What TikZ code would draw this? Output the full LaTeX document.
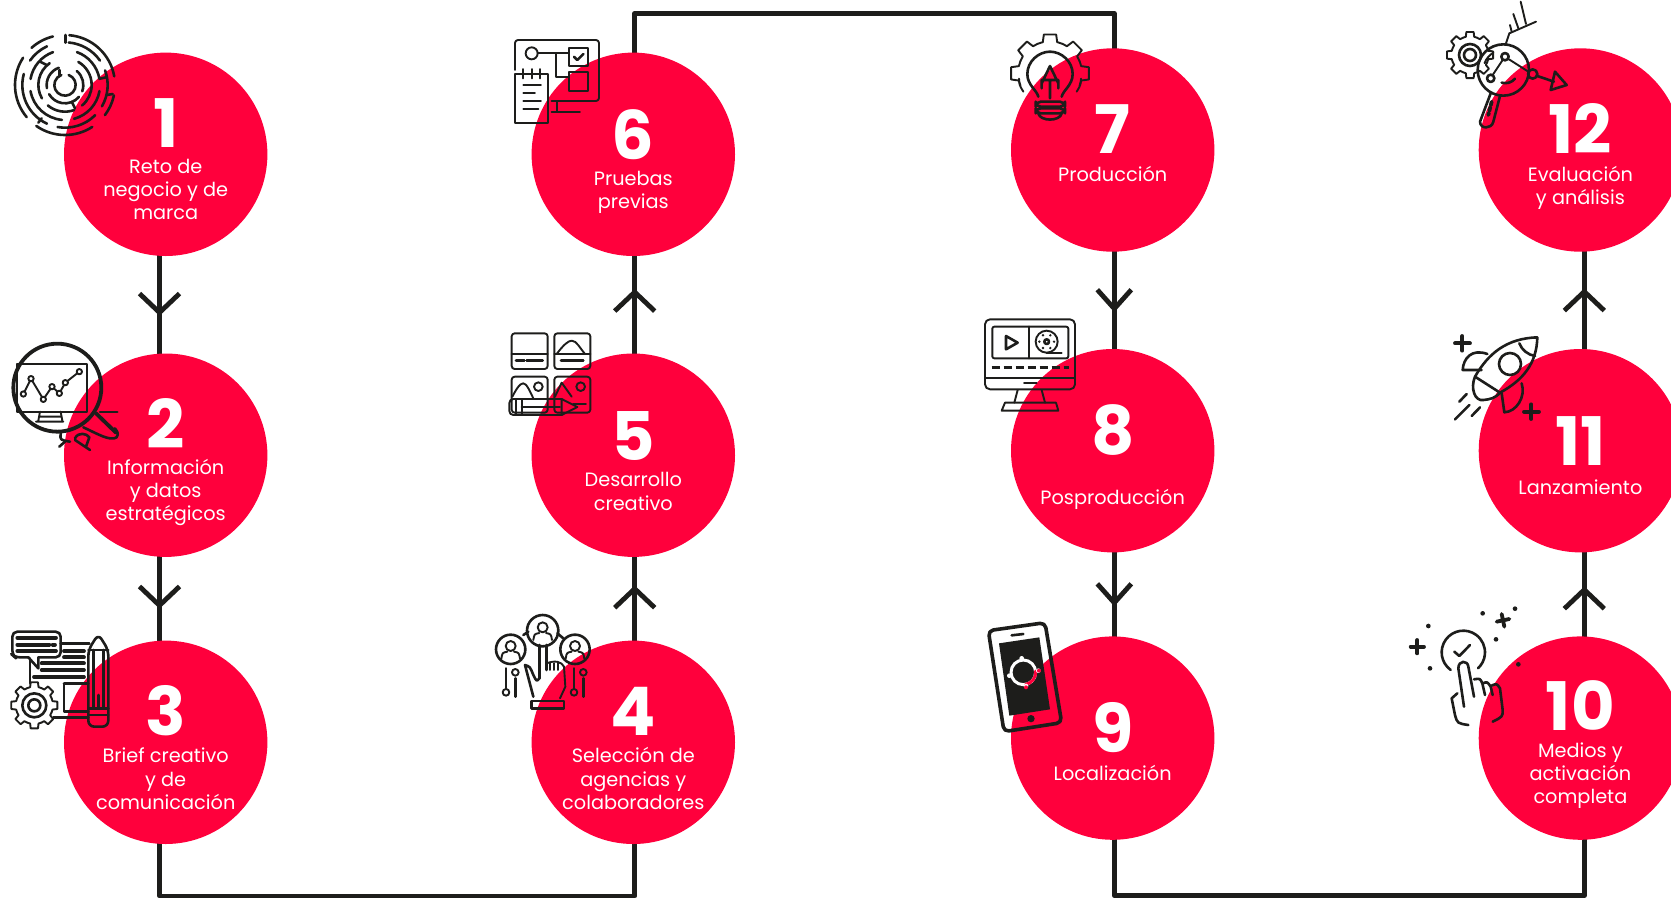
\documentclass[tikz,border=0pt]{standalone}
\usepackage{fontspec}
\setmainfont{Poppins}
\usepackage{xcolor}
\usetikzlibrary{arrows.meta, positioning, calc, backgrounds, decorations.markings}
\definecolor{brand}{HTML}{FF003C}
\definecolor{ink}{HTML}{1D1D1B}
\newcommand{\gearteeth}[5]{\begin{scope}[shift={(#1,#2)}]
    \foreach \a in {#5} \draw (\a-22.5:#4) -- (\a-13:#4) -- (\a-9:#3) -- (\a+9:#3) -- (\a+13:#4) -- (\a+22.5:#4);
    \end{scope}}
\begin{document}
\begin{tikzpicture}[
        x=1pt, y=1pt,
        stage/.style = {circle, fill=brand, minimum size=203.4pt, inner sep=0pt, outer sep=0pt},
        num/.style = {text=white, anchor=base, inner sep=0pt, text height=47pt, text depth=0pt, font=\fontsize{67}{67}\selectfont\bfseries},
        caption/.style = {text=white, anchor=base, inner sep=0pt, align=center, font=\fontsize{19.3}{23.3}\selectfont},
        flow/.style = {draw=ink, line width=4.8pt, line join=round, shorten >=-1pt, shorten <=-1pt},
        chevron/.style n args = {2}{postaction={decorate}, decoration={markings, mark=at position #1 with {\draw[ink, line width=4.8pt, shorten >=0pt, shorten <=0pt] (-19pt,#2pt) -- (0,0) -- (-19pt,-#2pt);}}},
        iconpart/.style = {color=ink, line width=1.9pt, line join=round, line cap=round, x=0.33333pt, y=-0.33333pt},
        fatpart/.style = {line width=3.8pt},
        midpart/.style = {line width=2.6pt}
    ]
    \useasboundingbox (0,0) rectangle (1671,-898);

    \node[stage] (n1) at (165.7,-154.3) {};
    \node[stage, below=97.5pt of n1] (n2) {};
    \node[stage, below=83.7pt of n2] (n3) {};
    \node[stage, right=264.2pt of n3] (n4) {};
    \node[stage, above=83.7pt of n4] (n5) {};
    \node[stage, above=97.5pt of n5] (n6) {};
    \node[stage, right=276pt of n6, yshift=4.3pt] (n7) {};
    \node[stage, below=97.3pt of n7] (n8) {};
    \node[stage, below=84pt of n8] (n9) {};
    \node[stage, right=264.3pt of n7] (n12) {};
    \node[stage, below=97.3pt of n12] (n11) {};
    \node[stage, below=84pt of n11] (n10) {};

    \coordinate (lowleft) at (400,-896);
    \coordinate (lowright) at (1350,-895.7);
    \coordinate (topmid) at (870,-13.7);

    \begin{scope}[on background layer]
    \draw[flow, chevron={.58}{20}] ([xshift=-6.2pt]n1.south) -- ([xshift=-6.2pt]n2.north);
    \draw[flow, chevron={.58}{20}] ([xshift=-6.2pt]n2.south) -- ([xshift=-6.2pt]n3.north);
    \draw[flow] ([xshift=-6.2pt]n3.south) |- (lowleft) -| ([xshift=1.4pt]n4.south);
    \draw[flow, chevron={.62}{20}] ([xshift=1.4pt]n4.north) -- ([xshift=1.4pt]n5.south);
    \draw[flow, chevron={.63}{20}] ([xshift=1.4pt]n5.north) -- ([xshift=1.4pt]n6.south);
    \draw[flow] ([xshift=1.4pt]n6.north) |- (topmid) -| ([xshift=1.6pt]n7.north);
    \draw[flow, chevron={.586}{17}] ([xshift=1.6pt]n7.south) -- ([xshift=1.6pt]n8.north);
    \draw[flow, chevron={.6}{17}] ([xshift=1.6pt]n8.south) -- ([xshift=1.6pt]n9.north);
    \draw[flow] ([xshift=1.6pt]n9.south) |- (lowright) -| ([xshift=3.9pt]n10.south);
    \draw[flow, chevron={.556}{20}] ([xshift=3.9pt]n10.north) -- ([xshift=3.9pt]n11.south);
    \draw[flow, chevron={.59}{20}] ([xshift=3.9pt]n11.north) -- ([xshift=3.9pt]n12.south);
    \end{scope}

    \node[num] (num1) at ([yshift=7pt]n1.center) {1};
    \node[caption] (lab1) at ([yshift=-65.6pt]n1.center) {Reto de\\negocio y de\\marca};
    \node[num] (num2) at ([yshift=7pt]n2.center) {2};
    \node[caption] (lab2) at ([yshift=-65.6pt]n2.center) {Información\\y datos\\estratégicos};
    \node[num] (num3) at ([yshift=7pt]n3.center) {3};
    \node[caption] (lab3) at ([yshift=-67.1pt]n3.center) {Brief creativo\\y de\\comunicación};
    \node[num] (num4) at ([yshift=7pt]n4.center) {4};
    \node[caption] (lab4) at ([yshift=-67.1pt]n4.center) {Selección de\\agencias y\\colaboradores};
    \node[num] (num5) at ([yshift=-5pt]n5.center) {5};
    \node[caption] (lab5) at ([yshift=-54.8pt]n5.center) {Desarrollo\\creativo};
    \node[num] (num6) at ([yshift=-5pt]n6.center) {6};
    \node[caption] (lab6) at ([yshift=-54.3pt]n6.center) {Pruebas\\previas};
    \node[num] (num7) at ([yshift=-3.2pt]n7.center) {7};
    \node[caption] (lab7) at ([yshift=-31pt]n7.center) {Producción};
    \node[num] (num8) at ([yshift=-4pt]n8.center) {8};
    \node[caption] (lab8) at ([yshift=-54pt]n8.center) {Posproducción};
    \node[num] (num9) at ([yshift=-14.4pt]n9.center) {9};
    \node[caption] (lab9) at ([yshift=-42.7pt]n9.center) {Localización};
    \node[num] (num10) at ([yshift=8pt]n10.center) {10};
    \node[caption] (lab10) at ([yshift=-65.6pt]n10.center) {Medios y\\activación\\completa};
    \node[num] (num11) at ([yshift=-15pt]n11.center) {11};
    \node[caption] (lab11) at ([yshift=-43.5pt]n11.center) {Lanzamiento};
    \node[num] (num12) at ([yshift=-3.7pt]n12.center) {12};
    \node[caption] (lab12) at ([yshift=-54.3pt]n12.center) {Evaluación\\y análisis};

    % icons of the first column
    \begin{scope}[iconpart]
    \foreach \r/\a/\b in {150/-85/-10, 150/12/37, 150/57/125, 150/140/213, 150/228/256,
        128/-85/-35, 128/-20/30, 128/45/100, 128/115/195, 128/215/245,
        105/-70/-10, 105/10/75, 105/95/170, 105/190/250,
        80/-60/50, 80/70/130, 80/150/235,
        55/-50/20, 55/40/150, 55/170/250,
        32/-70/250}
        \draw[midpart] ($(195,255)+(\a:\r)$) arc[start angle=\a, end angle=\b, radius=\r];
    \draw[midpart] (197,105) -- (197,128);
    \draw[midpart] (318,232) -- (300,236);
    \draw[midpart] (320,285) -- (338,282);
    \draw[midpart] (115,368) -- (125,355);
    \draw[midpart] (120,185) -- (140,195);
    \draw[midpart] (215,305) -- (225,325);
    \draw[midpart] (178,210) -- (178,228);

    \draw[fatpart] (172,1163) circle (132);
    \draw (50,1092) rectangle (262,1235);
    \draw (120,1235) -- (115,1262) (182,1235) -- (187,1262) (108,1265) -- (190,1265) (120,1250) -- (182,1250);
    \draw (70,1182) -- (93,1136) -- (130,1198) -- (156,1160) -- (178,1180) -- (196,1148) -- (238,1115);
    \foreach \x/\y in {70/1182, 93/1136, 130/1198, 156/1160, 178/1180, 196/1148, 238/1115}
        \draw[fill=white] (\x,\y) circle (8);
    \draw[fatpart] (288,1240) -- (348,1298);
    \draw[midpart] (300,1236) -- (352,1236);
    \draw[midpart] (250,1282) .. controls (290,1300) and (330,1325) .. (350,1312) .. controls (355,1300) .. (345,1285);
    \draw[midpart] (225,1315) .. controls (235,1295) and (260,1300) .. (268,1312) -- (258,1340);
    \draw[midpart] (225,1320) -- (270,1350);
    \draw[midpart] (182,1300) .. controls (180,1320) .. (210,1325);
    \draw[midpart] (178,1340) -- (195,1325);
    \end{scope}

    \begin{scope}[shift={(0,-600)}, iconpart]
    \draw[midpart, rounded corners=5pt] (85,172) -- (45,172) -- (37,165) -- (37,95) -- (182,95) -- (182,172) -- (115,172);
    \draw[midpart] (85,172) -- (115,205) -- (115,172);
    \draw[fatpart] (52,113) -- (168,113) (52,134) -- (148,134) (158,134) -- (165,134) (52,153) -- (168,153);
    \draw[midpart] (90,175) -- (90,250) (182,130) -- (268,130) (192,250) -- (192,335) -- (265,335) (192,250) -- (265,250) (160,352) -- (265,352);
    \draw[fatpart] (192,153) -- (252,153) (192,172) -- (252,172) (125,190) -- (252,190) (125,210) -- (252,210) (102,231) -- (252,231);
    \gearteeth{103}{316}{70}{56}{0,45,...,315}
    \draw[midpart] (103,316) circle (36) (103,316) circle (18);
    \draw[midpart, rounded corners=6pt] (265,150) -- (295,102) -- (325,150) -- (325,380) -- (265,380) -- cycle;
    \draw[midpart] (265,150) -- (325,150) (265,325) -- (325,325) (265,345) -- (325,345) (281,150) -- (281,325) (310,150) -- (310,325) (295,285) -- (295,322);
    \end{scope}

    % icons of the second column
    \begin{scope}[shift={(480,0)}, iconpart]
    \draw[rounded corners=3pt] (105,210) -- (105,120) -- (357,120) -- (357,303) -- (215,303);
    \draw (232,303) -- (232,335) (215,335) -- (300,335);
    \draw (155,160) circle (18);
    \draw (173,160) -- (265,160) (228,160) -- (228,232) -- (265,232);
    \draw (267,143) rectangle (325,197) (267,215) rectangle (325,272);
    \draw[midpart] (282,170) -- (292,180) -- (310,162);
    \draw (105,223) rectangle (205,368);
    \draw (130,207) -- (130,235) (155,207) -- (155,235) (180,207) -- (180,235);
    \draw (130,256) -- (183,256) (130,280) -- (165,280) (130,304) -- (183,304) (130,328) -- (175,328);

    \draw[rounded corners=3pt] (95,1000) rectangle (203,1107) (223,1000) rectangle (331,1107);
    \draw[rounded corners=3pt] (95,1130) rectangle (203,1238) (223,1130) rectangle (331,1238);
    \draw (95,1062) -- (203,1062) (223,1062) -- (331,1062);
    \draw[midpart] (108,1081) -- (133,1081) (140,1081) -- (188,1081) (243,1081) -- (310,1081);
    \draw (230,1062) .. controls (250,1035) and (265,1022) .. (275,1022) .. controls (290,1022) and (300,1045) .. (315,1062);
    \draw (97,1190) .. controls (110,1165) and (120,1150) .. (130,1150) .. controls (140,1150) and (150,1175) .. (160,1195);
    \draw (175,1160) circle (13) (302,1160) circle (13);
    \draw (225,1190) -- (245,1148) -- (275,1190);
    \draw[rounded corners=4pt] (245,1197) -- (88,1197) -- (88,1245) -- (245,1245);
    \draw (245,1197) -- (292,1221) -- (245,1245) -- cycle;
    \draw (108,1197) -- (108,1245) (125,1197) -- (125,1245) (125,1220) -- (240,1220) (280,1212) -- (318,1212);
    \end{scope}

    \begin{scope}[shift={(480,-600)}, iconpart]
    \draw[midpart] (188,92) circle (47) (92,148) circle (44) (285,148) circle (44);
    \draw[midpart] (130,105) -- (145,95) (232,100) -- (250,115);
    \foreach \x/\y in {188/82, 92/138, 285/138} {
        \draw (\x,\y) circle (15);
        \draw (\x-28,\y+38) .. controls (\x-25,\y+20) .. (\x-10,\y+17);
        \draw (\x+28,\y+38) .. controls (\x+25,\y+20) .. (\x+10,\y+17);
    }
    \draw[midpart] (178,135) -- (178,235) (200,135) -- (200,210);
    \draw[midpart] (178,235) .. controls (170,245) .. (160,225) .. controls (150,200) .. (135,195) -- (160,290);
    \draw (200,190) .. controls (225,180) and (245,185) .. (252,200) -- (256,260) -- (240,295);
    \draw (210,190) -- (210,210) (222,190) -- (222,210) (234,190) -- (234,210);
    \draw[midpart] (155,303) rectangle (252,325);
    \draw[midpart] (78,205) -- (78,265) (106,235) -- (106,290) (282,205) -- (282,265) (310,235) -- (310,290);
    \draw (78,277) circle (10) (106,217) circle (10) (282,277) circle (10) (310,217) circle (10);
    \end{scope}

    % icons of the third column
    \begin{scope}[shift={(970,0)}, iconpart]
    \gearteeth{240}{220}{118}{96}{-135,-90,-45}
    \gearteeth{240}{220}{118}{96}{0}
    \gearteeth{240}{220}{118}{96}{180}
    \draw (147,236) .. controls (148,255) .. (160,275) (333,236) .. controls (332,255) .. (320,275);
    \draw[midpart] (205,290) .. controls (200,270) and (172,255) .. (172,222) .. controls (172,185) and (205,155) .. (240,155) .. controls (275,155) and (308,185) .. (308,222) .. controls (308,255) and (280,270) .. (275,290);
    \draw[midpart, rounded corners=5pt] (197,305) rectangle (285,320) (197,325) rectangle (285,340);
    \draw[midpart] (205,340) .. controls (210,365) and (270,365) .. (275,340);
    \draw[midpart] (240,198) -- (215,250) (240,198) -- (265,250) (215,265) -- (215,240) -- (265,240) -- (265,265) (240,240) -- (240,295);

    \draw[rounded corners=5pt] (45,958) rectangle (315,1168);
    \draw[rounded corners=2pt] (67,980) rectangle (295,1075);
    \draw (178,980) -- (178,1075);
    \draw[midpart] (108,1008) -- (143,1028) -- (108,1048) -- cycle;
    \draw (230,1025) circle (33);
    \draw[midpart] (230,1025) circle (7);
    \foreach \a in {0,60,...,300} \fill ($(230,1025)+(\a:22)$) circle (4);
    \draw (230,1058) -- (275,1058);
    \draw[midpart, dashed, dash pattern=on 8pt off 4pt, line cap=butt] (65,1103) -- (297,1103);
    \draw (45,1135) -- (315,1135) (162,1150) -- (200,1150);
    \draw (143,1170) -- (133,1208) (215,1170) -- (225,1208);
    \draw (105,1208) -- (258,1208) -- (265,1232) -- (95,1232) -- cycle;
    \end{scope}

    \begin{scope}[shift={(970,-600)}, iconpart]
    \draw[line width=3.6pt, rounded corners=5pt] (55,92) -- (225,68) -- (275,368) -- (102,395) -- cycle;
    \fill (87,130) -- (208,112) -- (240,328) -- (118,347) -- cycle;
    \draw[midpart] (125,106) -- (160,102);
    \fill (183,356) circle (11);
    \draw[white, line width=3pt] (160,217) circle (37);
    \draw[brand, line width=3pt] ($(160,217)+(-6:37)$) arc[start angle=-6, end angle=80, radius=37];
    \foreach \x/\y in {155/175, 118/227, 168/258, 205/212} \fill[white] (\x,\y) circle (7);
    \fill[brand] (168,262) circle (6) (207,212) circle (6);
    \end{scope}

    % icons of the fourth column
    \begin{scope}[shift={(1400,-600)}, iconpart]
    \draw[midpart] ($(190,157)+(126:65)$) arc[start angle=126, end angle=407, radius=65];
    \draw[midpart] (163,155) -- (178,168) -- (210,135);
    \draw[midpart] (192,320) -- (175,205) .. controls (175,180) and (203,180) .. (205,200) -- (222,290);
    \draw[midpart] (222,238) .. controls (240,235) .. (247,250) -- (255,285);
    \draw[midpart] (248,250) .. controls (262,245) .. (272,260) -- (278,285);
    \draw[midpart] (272,258) .. controls (290,250) .. (300,265) -- (308,330) .. controls (308,350) .. (278,365);
    \draw[midpart] (172,280) -- (155,295) -- (165,345) .. controls (172,370) .. (205,375);
    \draw[fatpart] (32,140) -- (72,140) (52,120) -- (52,160);
    \draw[fatpart] (290,65) -- (328,57) (305,42) -- (313,80);
    \foreach \x/\y in {85/78, 90/205, 248/40, 345/26, 288/118, 355/193} \fill (\x,\y) circle (7);
    \end{scope}

    \begin{scope}[shift={(1400,0)}, iconpart]
    \draw[midpart] (412,1012) .. controls (320,1015) and (265,1060) .. (225,1130) .. controls (210,1165) and (225,1205) .. (250,1200) .. controls (270,1198) and (285,1195) .. (300,1178) .. controls (370,1140) and (410,1090) .. (412,1012);
    \draw[midpart] (225,1130) -- (300,1178);
    \draw[midpart] (358,1030) .. controls (365,1050) and (385,1065) .. (405,1068);
    \draw[midpart] (330,1092) circle (33);
    \draw[midpart] (262,1062) .. controls (215,1045) and (190,1075) .. (188,1110) -- (245,1110);
    \draw[midpart] (365,1150) .. controls (378,1190) and (350,1235) .. (313,1237) -- (305,1180);
    \draw[fatpart] (165,1030) -- (210,1030) (187,1008) -- (187,1052) (372,1235) -- (417,1235) (394,1213) -- (394,1257);
    \draw[midpart] (165,1258) -- (208,1215) (178,1205) -- (200,1182) (215,1248) -- (240,1222);

    \gearteeth{210}{165}{70}{56}{0,45,...,315}
    \draw[midpart] (210,165) circle (33) (210,165) circle (18);
    \draw[midpart] (310,210) circle (77);
    \draw ($(310,210)+(200:60)$) arc[start angle=200, end angle=240, radius=60];
    \draw[midpart] (305,248) .. controls (320,252) and (335,248) .. (345,236);
    \draw[midpart] (272,280) -- (240,365) .. controls (240,388) and (275,388) .. (280,365) -- (300,288);
    \draw[fatpart, dotted] (275,305) -- (265,345);
    \draw[midpart] (315,170) circle (11) (272,235) circle (11);
    \draw (308,180) -- (278,225) (327,178) -- (385,215);
    \draw[midpart] (398,222) circle (14);
    \draw[midpart] (412,228) -- (462,245);
    \draw[midpart] (465,215) -- (500,255) -- (452,270) -- cycle;
    \draw (318,130) -- (328,100) -- (408,65);
    \draw (335,95) -- (330,75) (355,85) -- (340,42) (378,72) -- (362,5);
    \end{scope}
\end{tikzpicture}
\end{document}
